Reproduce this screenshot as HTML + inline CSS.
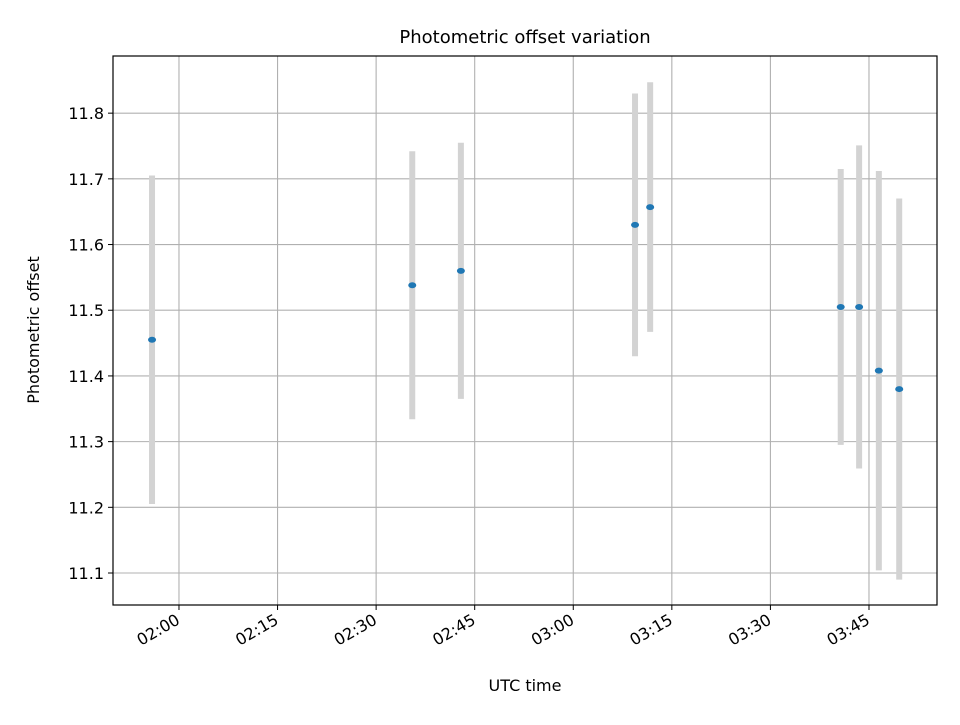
<!DOCTYPE html>
<html><head><meta charset="utf-8"><style>
body{margin:0;background:#fff;font-family:"Liberation Sans","DejaVu Sans",sans-serif;}
</style></head><body>
<svg id="chart" width="960" height="720" xmlns="http://www.w3.org/2000/svg" font-family="'DejaVu Sans','Liberation Sans',sans-serif">
<rect width="960" height="720" fill="#fff"/>
<g id="grid"></g>
<g id="bars"></g>
<g id="pts"></g>
<rect x="113" y="56" width="824" height="549" fill="none" stroke="#000" stroke-width="1.2"/>
<g id="ticks"></g>
<text x="525" y="43" text-anchor="middle" font-size="18">Photometric offset variation</text>
<text x="525" y="691" text-anchor="middle" font-size="16">UTC time</text>
<text transform="translate(39,330) rotate(-90)" text-anchor="middle" font-size="16">Photometric offset</text>
</svg>
<script>
// minutes after 02:00
const times = [-4.1, 35.5, 42.9, 69.4, 71.7, 100.7, 103.5, 106.5, 109.6];
const values = [11.455, 11.538, 11.56, 11.63, 11.657, 11.505, 11.505, 11.408, 11.38];
const errors = [0.25, 0.204, 0.195, 0.2, 0.19, 0.21, 0.246, 0.304, 0.29];
const xTicks = [0, 15, 30, 45, 60, 75, 90, 105];
const xTickLabels = ["02:00","02:15","02:30","02:45","03:00","03:15","03:30","03:45"];
const yTicks = [11.1, 11.2, 11.3, 11.4, 11.5, 11.6, 11.7, 11.8];

const L=113,R=937,T=56,B=605;
const xMin=-10.04,xMax=115.35,yMin=11.0513,yMax=11.887;
const sx=v=>L+(v-xMin)/(xMax-xMin)*(R-L);
const sy=v=>B-(v-yMin)/(yMax-yMin)*(B-T);
const NS="http://www.w3.org/2000/svg";
function mk(tag,attrs,parent){const e=document.createElementNS(NS,tag);for(const k in attrs)e.setAttribute(k,attrs[k]);parent.appendChild(e);return e;}
const grid=document.getElementById('grid'),ticks=document.getElementById('ticks'),bars=document.getElementById('bars'),pts=document.getElementById('pts');
xTicks.forEach((t,i)=>{
  const x=sx(t);
  const g=mk('line',{x1:x,x2:x,y1:T,y2:B,stroke:'#b0b0b0','stroke-width':1.1},grid);
  
  
  mk('line',{x1:x,x2:x,y1:B,y2:B+5,stroke:'#000','stroke-width':1},ticks);
  const ax=x+2, ay=B+18;
  const tx=mk('text',{x:ax,y:ay,'font-size':16,'text-anchor':'end',transform:`rotate(-30 ${ax} ${ay})`},ticks);
  tx.textContent=xTickLabels[i];
  
  
});
yTicks.forEach(t=>{
  const y=sy(t);
  const g=mk('line',{x1:L,x2:R,y1:y,y2:y,stroke:'#b0b0b0','stroke-width':1.1},grid);
  
  
  mk('line',{x1:L-5,x2:L,y1:y,y2:y,stroke:'#000','stroke-width':1},ticks);
  const tx=mk('text',{x:L-9,y:y+6,'font-size':16,'text-anchor':'end'},ticks);
  tx.textContent=t.toFixed(1);
  
  
});
times.forEach((t,i)=>{
  const x=sx(t);
  const b=mk('line',{x1:x,x2:x,y1:sy(values[i]+errors[i]),y2:sy(values[i]-errors[i]),stroke:'#d3d3d3','stroke-width':6},bars);
  
  
  const p=mk('ellipse',{cx:x,cy:sy(values[i]),rx:4,ry:3,fill:'#1f77b4'},pts);
  
  
});
</script>
</body></html>
